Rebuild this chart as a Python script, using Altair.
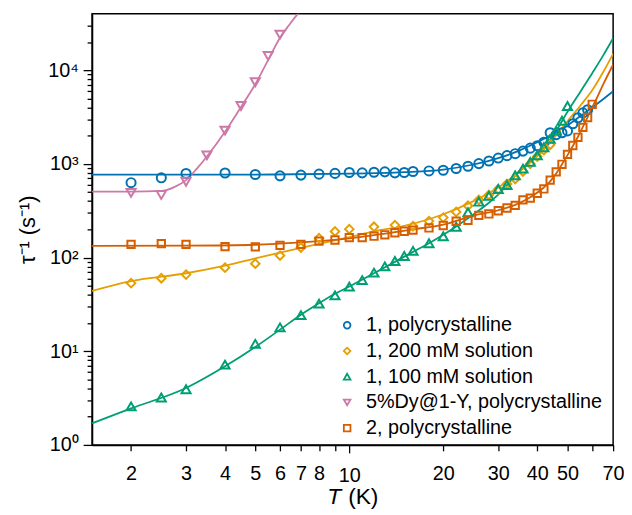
import altair as alt
import pandas as pd

FONT = "Liberation Sans"

names = ["1, polycrystalline", "1, 200 mM solution", "1, 100 mM solution",
         "5%Dy@1-Y, polycrystalline", "2, polycrystalline"]
colors = ["#0072B2", "#E69F00", "#009E73", "#CC79A7", "#D55E00"]
shapes = ["circle", "diamond", "triangle-up", "triangle-down", "square"]
sizes = [85, 75, 85, 85, 55]

# ---- measured points (T in K, tau^-1 in s^-1) ----
t_poly = [2, 2.5, 3, 4, 5, 6, 7, 8, 9, 10, 11, 12, 13, 14, 15, 16, 18, 20, 22, 24, 26,
          28, 30, 32, 34, 36, 38, 40, 42, 44, 46, 48, 50, 52, 54, 56, 58]
v_poly = [630, 710, 790, 800, 770, 745, 759, 777, 791, 809, 802, 815, 822, 802, 809,
          829, 841, 856, 892, 944, 1007, 1074, 1154, 1224, 1285, 1369, 1472, 1560, 1703,
          2150, 2050, 2150, 2250, 2680, 3100, 3500, 3780]

t_200 = [2, 2.5, 3, 4, 5, 6, 7, 8, 9, 10, 12, 14, 16, 18, 20, 22, 24, 26, 28, 30, 32,
         34, 36, 38, 40, 42, 44]
v_200 = [53.3, 60.2, 65.8, 78, 86, 105, 128, 161, 190, 201, 213, 222, 216, 245, 267,
         307, 357, 413, 466, 536, 610, 690, 830, 1000, 1200, 1400, 1600]

t_100 = [2, 2.5, 3, 4, 5, 6, 7, 8, 9, 10, 11, 12, 13, 14, 15, 16, 18, 20, 22, 24, 26,
         28, 30, 32, 34, 36, 38, 40, 42, 44, 46, 48, 50]
v_100 = [2.58, 3.21, 3.93, 7.2, 12.0, 18.0, 24.3, 32.2, 39.5, 49, 57.5, 69, 80.5, 92,
         104, 118, 142, 169, 213, 305, 395, 455, 540, 595, 755, 890, 1050, 1232, 1507,
         1850, 2262, 2884, 4150]

t_dy = [2, 2.5, 3, 3.5, 4, 4.5, 5, 5.5, 6]
v_dy = [490, 466, 645, 1233, 2262, 4150, 7430, 14200, 24000]

t_two = [2, 2.5, 3, 4, 5, 6, 7, 8, 9, 10, 11, 12, 13, 14, 15, 16, 18, 20, 22, 24, 26,
         28, 30, 32, 34, 36, 38, 40, 42, 44, 46, 48, 50, 52, 54, 56, 58, 60]
v_two = [138.5, 141, 138.5, 131, 130, 135, 138.5, 150, 154, 163, 163, 169, 175, 184,
         191, 196, 207, 220, 244, 250, 282, 292, 316, 338, 360, 413, 431, 486, 540, 670,
         822, 990, 1262, 1572, 1923, 2450, 3126, 4326]

# ---- fitted curves ----
lt_poly = [1.5, 5, 10, 15, 20, 25, 30, 35, 40, 45, 50, 55, 60, 65, 70]
lv_poly = [770, 770, 785, 815, 870, 985, 1150, 1385, 1700, 2100, 2580, 3240, 4000, 4900, 5950]

lt_200 = [1.5, 2, 3, 4, 5, 6, 7, 8, 10, 12, 15, 20, 25, 30, 35, 40, 45, 50, 55, 60, 65, 70]
lv_200 = [44, 56, 68, 82, 98, 113, 127, 140, 165, 190, 218, 290, 400, 560, 820, 1200,
          1850, 2850, 4200, 6100, 9500, 15000]

lt_100 = [1.5, 2, 3, 4, 5, 6, 7, 8, 9, 10, 12, 14, 16, 18, 20, 22, 24, 26, 28, 30, 35,
          40, 45, 50, 55, 60, 65, 70]
lv_100 = [1.7, 2.45, 4.05, 6.9, 11.1, 17, 24.5, 32.5, 41, 49, 68, 90, 115, 142, 175,
          215, 262, 318, 385, 470, 830, 1280, 2000, 3600, 5900, 9300, 14300, 22000]

lt_dy = [1.5, 2, 2.5, 2.75, 3, 3.25, 3.5, 4, 4.5, 5, 5.5, 6, 6.4, 6.84, 7]
lv_dy = [505, 505, 514, 565, 671, 890, 1200, 2200, 4050, 7100, 12900, 22200, 30000,
         40000, 43500]

lt_two = [1.5, 3, 5, 7, 10, 13, 16, 20, 25, 30, 34, 38, 42, 44, 46, 48, 50, 52, 54, 56,
          58, 60, 62, 65, 70]
lv_two = [133, 134, 137, 145, 160, 180, 200, 225, 280, 320, 365, 440, 560, 650, 790,
          990, 1240, 1550, 1950, 2480, 3150, 4000, 5000, 7000, 11500]

x_ticks = [2, 3, 4, 5, 6, 7, 8, 9, 10, 20, 30, 40, 50, 60, 70]
y_ticks = [m * 10 ** e for e in range(0, 5) for m in range(1, 10) if m * 10 ** e < 40000]

pts_sets = [(t_poly, v_poly), (t_200, v_200), (t_100, v_100), (t_dy, v_dy), (t_two, v_two)]
line_sets = [(lt_poly, lv_poly), (lt_200, lv_200), (lt_100, lv_100), (lt_dy, lv_dy), (lt_two, lv_two)]

pts = pd.concat([pd.DataFrame({"T": t, "tau": v, "series": n, "msize": s})
                 for n, s, (t, v) in zip(names, sizes, pts_sets)], ignore_index=True)

xscale = alt.Scale(type="log", domain=[1.5, 70], nice=False)
yscale = alt.Scale(type="log", domain=[1, 40000], nice=False)

decade_test = "indexof([1,10,100,1000,10000], datum.value) >= 0"
y_label_expr = ("datum.value == 1 ? '10\u2070' : datum.value == 10 ? '10\u00b9' : "
                "datum.value == 100 ? '10\u00b2' : datum.value == 1000 ? '10\u00b3' : "
                "datum.value == 10000 ? '10\u2074' : ''")

xaxis = alt.Axis(values=x_ticks, title=None,
                 labelExpr="(datum.value == 9 || datum.value == 60) ? '' : toString(datum.value)",
                 labelOverlap=False, labelFlush=False, grid=False,
                 tickSize={"condition": {"test": "datum.value == 10", "value": 8}, "value": 6},
                 labelPadding=13)
yaxis = alt.Axis(values=y_ticks, title="\u03c4\u207b\u00b9 (s\u207b\u00b9)",
                 labelExpr=y_label_expr, labelOverlap=False, labelFlush=False, grid=False,
                 tickSize={"condition": {"test": decade_test, "value": 9}, "value": 5},
                 labelPadding=5, titlePadding=8)

X = alt.X("T:Q", scale=xscale, axis=xaxis)
Y = alt.Y("tau:Q", scale=yscale, axis=yaxis)

line_layers = []
for n, c, (t, v) in zip(names, colors, line_sets):
    df = pd.DataFrame({"T": t, "tau": v})
    line_layers.append(alt.Chart(df).mark_line(strokeWidth=1.8, clip=True,
                                                interpolate="monotone").encode(
        x=X, y=Y, color=alt.value(c)))

legend = alt.Legend(title=None, orient="none", legendX=248, legendY=305,
                    labelFont=FONT, labelFontSize=20, labelColor="black",
                    symbolStrokeWidth=1.8, symbolSize=45, rowPadding=6, labelOffset=9,
                    labelLimit=400)

point_layer = alt.Chart(pts).mark_point(filled=False, strokeWidth=2, clip=True, opacity=1).encode(
    x=X, y=Y,
    color=alt.Color("series:N", scale=alt.Scale(domain=names, range=colors), legend=legend),
    shape=alt.Shape("series:N", scale=alt.Scale(domain=names, range=shapes), legend=legend),
    size=alt.Size("msize:Q", scale=None),
)

xt1 = alt.Chart(pd.DataFrame({"t": ["T"]})).mark_text(
    font=FONT, fontSize=23, fontStyle="italic", align="left", baseline="alphabetic"
).encode(text="t:N", x=alt.value(238), y=alt.value(496))
xt2 = alt.Chart(pd.DataFrame({"t": ["(K)"]})).mark_text(
    font=FONT, fontSize=23, align="left", baseline="alphabetic"
).encode(text="t:N", x=alt.value(259), y=alt.value(496))

chart = alt.layer(*line_layers, point_layer, xt1, xt2).properties(
    width=527, height=436,
    autosize=alt.AutoSizeParams(type="none"),
    padding={"left": 85, "top": 3, "right": 11, "bottom": 67},
).configure(font=FONT).configure_view(
    stroke="black", strokeWidth=1.5
).configure_axis(
    labelFont=FONT, labelFontSize=20, labelColor="black",
    titleFont=FONT, titleFontSize=22, titleFontWeight="normal", titleColor="black",
    domainColor="black", domainWidth=1.5, tickColor="black", tickWidth=1.3,
)

chart.save("out.html", embed_options={"renderer": "svg", "actions": False})
